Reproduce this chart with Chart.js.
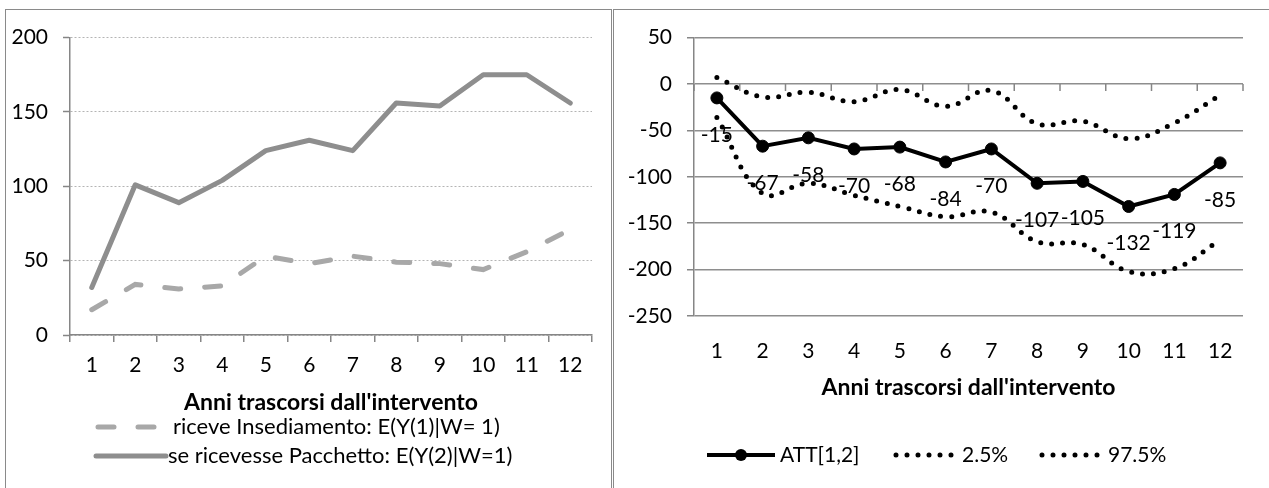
<!DOCTYPE html>
<html>
<head>
<meta charset="utf-8">
<script src="https://cdn.jsdelivr.net/npm/chart.js@4.4.1/dist/chart.umd.min.js"></script>
<style>
  html, body { margin: 0; padding: 0; background: #fff; width: 1269px; height: 488px; overflow: hidden; }
  .panel { position: absolute; top: 9px; height: 500px; border: 1px solid #8a8a8a; box-sizing: border-box; }
  #p1 { left: 5px; width: 607px; }
  #p2 { left: 613px; width: 680px; }
  canvas { position: absolute; }
</style>
</head>
<body>
<div class="panel" id="p1"></div>
<div class="panel" id="p2"></div>
<canvas id="left" width="604" height="478" style="left:6px;top:10px"></canvas>
<canvas id="right" width="655" height="478" style="left:614px;top:10px"></canvas>
<script>
const years = ['1', '2', '3', '4', '5', '6', '7', '8', '9', '10', '11', '12'];

// left chart
const insediamento = [17, 34, 31, 33, 53, 48, 53, 49, 48, 44, 56, 71];
const pacchetto = [32, 101, 89, 104, 124, 131, 124, 156, 154, 175, 175, 156];
const leftTicks = [0, 50, 100, 150, 200];

// right chart
const att = [-15, -67, -58, -70, -68, -84, -70, -107, -105, -132, -119, -85];
const ci025 = [-36, -118, -107, -120, -132, -143, -138, -170, -173, -202, -199, -168];
const ci975 = [7, -14, -9, -19, -6, -24, -7, -43, -40, -59, -42, -12];
const rightTicks = [-250, -200, -150, -100, -50, 0, 50];

const FAMILY = 'Lato, "Open Sans", sans-serif';
const FSIZE = 21;
const AXIS = '#868686';
Chart.defaults.font.family = FAMILY;
Chart.defaults.font.size = FSIZE;
Chart.defaults.color = '#000';

// legend drawn by hand so the samples look like the excel ones
const lineLegend = {
  id: 'lineLegend',
  afterDraw(chart, args, opts) {
    const ctx = chart.ctx;
    ctx.save();
    ctx.font = (opts.size || FSIZE) + 'px ' + FAMILY;
    ctx.textBaseline = 'middle';
    opts.items.forEach(it => {
      const ds = chart.data.datasets[it.index];
      ctx.strokeStyle = ds.borderColor;
      ctx.lineWidth = ds.borderWidth;
      ctx.lineCap = ds.borderCapStyle || 'butt';
      ctx.setLineDash(ds.borderDash || []);
      ctx.beginPath();
      ctx.moveTo(it.x0, it.y);
      ctx.lineTo(it.x1, it.y);
      ctx.stroke();
      if (ds.pointRadius) {
        ctx.setLineDash([]);
        ctx.fillStyle = ds.pointBackgroundColor;
        ctx.beginPath();
        ctx.arc((it.x0 + it.x1) / 2, it.y, ds.pointRadius, 0, Math.PI * 2);
        ctx.fill();
      }
      ctx.fillStyle = '#000';
      ctx.fillText(ds.label, it.tx, it.y);
    });
    ctx.restore();
  }
};

// small tick marks on the horizontal axis that crosses at 0
const zeroTicks = {
  id: 'zeroTicks',
  beforeDatasetsDraw(chart) {
    const x = chart.scales.x, y = chart.scales.y, ctx = chart.ctx;
    const y0 = y.getPixelForValue(0);
    ctx.save();
    ctx.strokeStyle = AXIS;
    ctx.lineWidth = 1.5;
    ctx.beginPath();
    for (let i = 0; i <= years.length; i++) {
      const px = x.getPixelForValue(i - 0.5);
      ctx.moveTo(px, y0);
      ctx.lineTo(px, y0 + 7);
    }
    ctx.stroke();
    ctx.restore();
  }
};

const attLabels = {
  id: 'attLabels',
  afterDatasetsDraw(chart) {
    const ctx = chart.ctx;
    const meta = chart.getDatasetMeta(0);
    ctx.save();
    ctx.font = FSIZE + 'px ' + FAMILY;
    ctx.fillStyle = '#000';
    ctx.textAlign = 'center';
    ctx.textBaseline = 'middle';
    meta.data.forEach((pt, i) => ctx.fillText(String(att[i]), pt.x, pt.y + 37));
    ctx.restore();
  }
};

new Chart(document.getElementById('left'), {
  type: 'line',
  data: {
    labels: years,
    datasets: [
      {
        label: 'riceve Insediamento: E(Y(1)|W= 1)',
        data: insediamento,
        borderColor: '#a8a8a8',
        borderWidth: 5,
        borderDash: [16, 24],
        borderCapStyle: 'round',
        pointRadius: 0,
        tension: 0
      },
      {
        label: 'se ricevesse Pacchetto: E(Y(2)|W=1)',
        data: pacchetto,
        borderColor: '#8e8e8e',
        borderWidth: 5,
        borderCapStyle: 'round',
        borderJoinStyle: 'round',
        pointRadius: 0,
        tension: 0
      }
    ]
  },
  options: {
    responsive: false,
    animation: false,
    layout: { padding: { left: 0, top: 22, right: 18, bottom: 53 } },
    plugins: {
      legend: { display: false },
      tooltip: { enabled: false },
      lineLegend: {
        size: 22,
        items: [
          { index: 0, x0: 92, x1: 155, y: 417, tx: 167 },
          { index: 1, x0: 90, x1: 160, y: 446, tx: 162 }
        ]
      }
    },
    scales: {
      x: {
        offset: true,
        grid: { offset: true, drawOnChartArea: false, tickLength: 7, color: AXIS, lineWidth: 1.5 },
        border: { color: AXIS, width: 1.5 },
        ticks: { padding: 11 },
        title: {
          display: true,
          text: "Anni trascorsi dall'intervento",
          font: { size: 23, weight: 'bold' },
          padding: { top: 0, bottom: 19 }
        },
        afterFit: s => { s.height = 100; }
      },
      y: {
        min: 0,
        max: 200,
        afterBuildTicks: s => { s.ticks = leftTicks.map(v => ({ value: v })); },
        grid: { color: '#b4b4b4', lineWidth: 1, tickLength: 7, tickColor: AXIS, tickWidth: 1.5, tickBorderDash: [] },
        border: { color: AXIS, width: 1.5, dash: [2, 2] },
        ticks: { padding: 15 },
        afterFit: s => { s.width = 64; }
      }
    }
  },
  plugins: [lineLegend]
});

new Chart(document.getElementById('right'), {
  type: 'line',
  data: {
    labels: years,
    datasets: [
      {
        label: 'ATT[1,2]',
        data: att,
        borderColor: '#000',
        borderWidth: 4,
        pointRadius: 6,
        pointBackgroundColor: '#000',
        pointBorderColor: '#000',
        pointBorderWidth: 1,
        tension: 0
      },
      {
        label: '2.5%',
        data: ci025,
        borderColor: '#000',
        borderWidth: 5,
        borderDash: [0, 11],
        borderCapStyle: 'round',
        pointRadius: 0,
        tension: 0.4
      },
      {
        label: '97.5%',
        data: ci975,
        borderColor: '#000',
        borderWidth: 5,
        borderDash: [0, 11],
        borderCapStyle: 'round',
        pointRadius: 0,
        tension: 0.4
      }
    ]
  },
  options: {
    responsive: false,
    animation: false,
    layout: { padding: { left: 0, top: 26, right: 26, bottom: 62 } },
    plugins: {
      legend: { display: false },
      tooltip: { enabled: false },
      lineLegend: {
        items: [
          { index: 0, x0: 93, x1: 161, y: 445, tx: 166 },
          { index: 1, x0: 282, x1: 342, y: 445, tx: 348 },
          { index: 2, x0: 428, x1: 488, y: 445, tx: 494 }
        ]
      }
    },
    scales: {
      x: {
        offset: true,
        grid: { display: false, drawTicks: false },
        border: { display: false },
        ticks: { padding: 23 },
        title: {
          display: true,
          text: "Anni trascorsi dall'intervento",
          font: { size: 23, weight: 'bold' },
          padding: { top: 0, bottom: 25 }
        },
        afterFit: s => { s.height = 110; }
      },
      y: {
        min: -250,
        max: 50,
        afterBuildTicks: s => { s.ticks = rightTicks.map(v => ({ value: v })); },
        grid: { color: '#8e8e8e', lineWidth: 1.5, tickLength: 7, tickColor: AXIS, tickWidth: 1.5 },
        border: { color: AXIS, width: 1.5 },
        ticks: { padding: 15 },
        afterFit: s => { s.width = 80; }
      }
    }
  },
  plugins: [zeroTicks, attLabels, lineLegend]
});
</script>
</body>
</html>
